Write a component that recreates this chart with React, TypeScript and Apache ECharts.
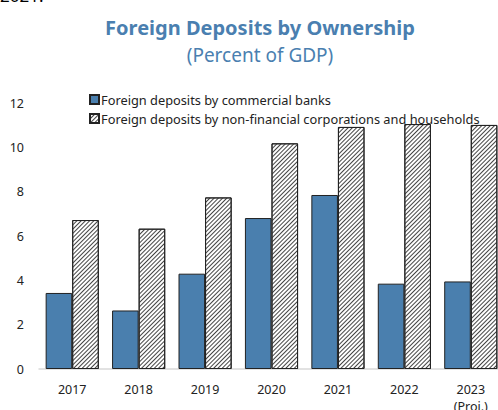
import React, { useEffect, useRef } from "react";
import * as echarts from "echarts";

const years = ["2017", "2018", "2019", "2020", "2021", "2022", "2023\n(Proj.)"];
const banks = [3.43, 2.64, 4.3, 6.81, 7.85, 3.85, 3.95];
const nonFin = [6.72, 6.33, 7.74, 10.18, 10.92, 11.05, 11.01];
const yTicks = [0, 2, 4, 6, 8, 10, 12];

const FONT = "'Noto Sans', sans-serif";

export default function App() {
  const ref = useRef<HTMLDivElement>(null);
  useEffect(() => {
    if (!ref.current) return;
    const chart = echarts.init(ref.current, undefined, { renderer: "svg" });
    chart.setOption({
      animation: false,
      graphic: [
        {
          type: "text",
          left: 0,
          top: -13,
          style: { text: "2021.", font: `17px ${FONT}`, fill: "#000" },
        },
      ],
      title: {
        text: "Foreign Deposits by Ownership",
        subtext: "(Percent of GDP)",
        left: 255,
        textAlign: "center",
        top: 12,
        itemGap: 8,
        textStyle: { fontFamily: FONT, fontSize: 20, fontWeight: "bold", color: "#4a7fb0" },
        subtextStyle: { fontFamily: FONT, fontSize: 19, color: "#4a7fb0" },
      },
      legend: {
        orient: "vertical",
        left: 84,
        top: 88,
        itemWidth: 9,
        itemHeight: 9,
        itemGap: 6,
        icon: "rect",
        textStyle: { fontFamily: FONT, fontSize: 12.8, color: "#222", padding: [0, 0, 0, -3] },
        data: [
          "Foreign deposits by commercial banks",
          "Foreign deposits by non-financial corporations and households",
        ],
      },
      grid: { left: 39, right: -6, top: 103, bottom: 41, containLabel: false, outerBoundsMode: "none" },
      xAxis: {
        type: "category",
        data: years,
        axisLine: { lineStyle: { color: "#d9d9d9", width: 1.5 } },
        axisTick: { show: false },
        axisLabel: { fontFamily: FONT, fontSize: 12.5, color: "#222", margin: 12, lineHeight: 17 },
      },
      yAxis: {
        type: "value",
        min: yTicks[0],
        max: yTicks[yTicks.length - 1],
        interval: 2,
        splitLine: { show: false },
        axisLine: { show: false },
        axisTick: { show: false },
        axisLabel: { fontFamily: FONT, fontSize: 12.5, color: "#222", margin: 15 },
      },
      series: [
        {
          name: "Foreign deposits by commercial banks",
          type: "bar",
          data: banks,
          barGap: "0%",
          barCategoryGap: "20%",
          itemStyle: { color: "#4a7fae", borderColor: "#222", borderWidth: 1 },
        },
        {
          name: "Foreign deposits by non-financial corporations and households",
          type: "bar",
          data: nonFin,
          barGap: "0%",
          barCategoryGap: "20%",
          itemStyle: {
            color: "#ffffff",
            borderColor: "#222",
            borderWidth: 1,
            decal: {
              symbol: "rect",
              symbolSize: 1,
              color: "#444",
              dashArrayX: [1, 0],
              dashArrayY: [1, 2],
              rotation: -Math.PI / 4,
            },
          },
        },
      ],
    });
    return () => chart.dispose();
  }, []);
  return (
    <div
      ref={ref}
      style={{ position: "absolute", left: 0, top: 0, width: 498, height: 410 }}
    />
  );
}
